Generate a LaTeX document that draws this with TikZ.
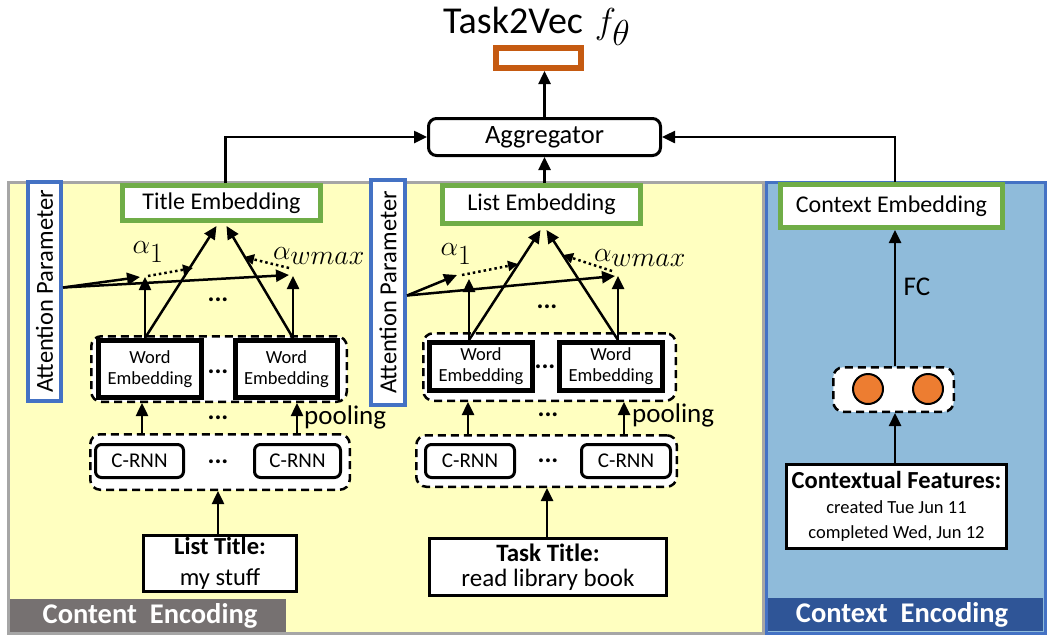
\documentclass[tikz,border=0pt]{standalone}
\usepackage{fontspec}
\setmainfont{Carlito}
\usetikzlibrary{arrows.meta,calc}
\definecolor{yellowbg}{HTML}{FFFFC0}
\definecolor{framegray}{HTML}{A6A6A6}
\definecolor{ctxbg}{HTML}{8FBBDA}
\definecolor{ctxframe}{HTML}{4472C4}
\definecolor{ctxband}{HTML}{2F5597}
\definecolor{contentband}{HTML}{767171}
\definecolor{embgreen}{HTML}{70AD47}
\definecolor{parblue}{HTML}{4472C4}
\definecolor{vecorange}{HTML}{C55A11}
\definecolor{unitorange}{HTML}{ED7D31}
\newcommand\fsz[2]{\fontsize{#1}{#2}\selectfont}
\newcommand\bigmath[2]{{\fsz{24}{28}\scalebox{#1}{$#2$}}}
\begin{document}
\begin{tikzpicture}[x=1pt,y=-1pt,
  arr/.style={-{Triangle[length=13pt,width=12pt]},line width=2.5pt},
  dotarr/.style={-{Triangle[length=10pt,width=10pt]},line width=2.5pt,dash pattern=on 2.5pt off 3pt},
  embbox/.style={draw=embgreen,line width=5pt,fill=white,inner sep=0pt,font=\fsz{24}{28}},
  parbox/.style={draw=parblue,line width=4pt,fill=white,inner sep=0pt,font=\fsz{24.5}{28}},
  wordbox/.style={draw=black,line width=5pt,fill=white,inner sep=0pt,align=center,font=\fsz{18.5}{21}},
  rnnbox/.style={draw=black,line width=3pt,rounded corners=6pt,fill=white,inner sep=0pt,font=\fsz{21}{25}},
  grp/.style={draw=black,line width=2.5pt,dash pattern=on 8pt off 5pt,rounded corners=10pt,fill=white,inner sep=0pt},
  inbox/.style={draw=black,line width=3pt,fill=white,inner sep=0pt,align=center},
  ellip/.style={font=\fsz{26}{28}\bfseries,inner sep=0pt},
  alab/.style={inner sep=0pt},
  band/.style={text=white,font=\fsz{28.5}{32}\bfseries,inner sep=0pt},
]
\useasboundingbox (0,0) rectangle (1048,638);

% encoder regions
\draw[fill=yellowbg,draw=framegray,line width=3pt] (8,182) rectangle (763,633);
\draw[fill=ctxbg,draw=ctxframe,line width=3pt] (766,182) rectangle (1045,633);
\fill[contentband] (10,599) rectangle (286,632);
\fill[ctxband] (768,598) rectangle (1043,631);
\node[band] (lbcontent) at (150,615.5) {Content\ \ Encoding};
\node[band] (lbcontext) at (902,614.5) {Context\ \ Encoding};

% output and aggregation
\node[anchor=base west,font=\fsz{38}{44},inner sep=0pt] (t2v) at (443,33) {Task2Vec\hspace{12pt}\bigmath{1.45}{f_{\textstyle\theta}}};
\node[draw=vecorange,line width=6pt,fill=white,minimum width=85,minimum height=20,inner sep=0pt] (vec) at (538.5,58) {};
\node[draw=black,line width=3pt,rounded corners=8pt,fill=white,minimum width=232,minimum height=37,inner sep=0pt,font=\fsz{26.5}{30}] (agg) at (544.5,137) {Aggregator};

% embeddings
\node[embbox,minimum width=198,minimum height=35] (title) at (221.5,203) {Title Embedding\hspace{8pt}};
\node[embbox,minimum width=198,minimum height=38] (list) at (541.5,204.5) {List Embedding};
\node[embbox,minimum width=222,minimum height=43] (ctx) at (891.5,206) {Context Embedding};

% attention parameters
\node[parbox,minimum width=33,minimum height=219] (apL) at (44.5,291.5) {\rotatebox{90}{Attention Parameter}};
\node[parbox,minimum width=34,minimum height=225] (apM) at (388,292.5) {\rotatebox{90}{Attention Parameter}};

% title branch
\node[grp,minimum width=255.5,minimum height=65.5] (wgL) at (219,369) {};
\node[wordbox,minimum width=103,minimum height=57] (weL1) at (150,369) {Word\\Embedding};
\node[wordbox,minimum width=102,minimum height=57] (weL2) at (286.5,369) {Word\\Embedding};
\node[grp,minimum width=259.5,minimum height=55.5] (rgL) at (220,462) {};
\node[rnnbox,minimum width=88,minimum height=33] (rnnL1) at (139.5,461) {C-RNN};
\node[rnnbox,minimum width=86,minimum height=33] (rnnL2) at (297.5,461) {C-RNN};
\node[inbox,minimum width=153,minimum height=56,font=\fsz{24.5}{31}] (lt) at (220,563.5) {\textbf{List Title:}\\my stuff};

% task branch
\node[grp,minimum width=252.5,minimum height=67.5] (wgM) at (549.5,367) {};
\node[wordbox,minimum width=103,minimum height=48] (weM1) at (481,366.5) {Word\\Embedding};
\node[wordbox,minimum width=103,minimum height=48] (weM2) at (611,366.5) {Word\\Embedding};
\node[grp,minimum width=260.5,minimum height=51.5] (rgM) at (546.5,461) {};
\node[rnnbox,minimum width=89,minimum height=33] (rnnM1) at (470,461) {C-RNN};
\node[rnnbox,minimum width=89,minimum height=33] (rnnM2) at (626,461) {C-RNN};
\node[inbox,minimum width=237,minimum height=57,font=\fsz{25}{25}] (tt) at (548,567) {\textbf{Task Title:}\\read library book};

% context branch
\node[grp,minimum width=120.5,minimum height=44.5] (cg) at (893.5,389.5) {};
\node[circle,draw=black,line width=2pt,fill=unitorange,minimum size=30,inner sep=0pt] (u1) at (868,389) {};
\node[circle,draw=black,line width=2pt,fill=unitorange,minimum size=30,inner sep=0pt] (u2) at (928,389) {};
\node[inbox,minimum width=220,minimum height=84,font=\fsz{18.5}{25}] (cf) at (896.5,506.5) {{\fsz{24.5}{27}\bfseries Contextual Features:}\\created Tue Jun 11\\completed Wed, Jun 12};
\node[font=\fsz{27}{30},inner sep=0pt] (fc) at (917,287) {FC};

% ellipses
\node[ellip] (d1) at (218,372) {...};
\node[ellip] (d2) at (218,300) {...};
\node[ellip] (d3) at (218,462) {...};
\node[ellip] (d4) at (218,418) {...};
\node[ellip] (d5) at (545,367) {...};
\node[ellip] (d6) at (547,307) {...};
\node[ellip] (d7) at (548,461) {...};
\node[ellip] (d8) at (548,415) {...};

% pooling labels
\node[anchor=west,font=\fsz{27}{30},inner sep=0pt] (plL) at (304,417) {pooling};
\node[anchor=west,font=\fsz{27}{30},inner sep=0pt] (plM) at (632,415) {pooling};

% attention weights
\node[alab] (alL1) at (148,252) {\bigmath{1.12}{\alpha_{\textstyle 1}}};
\node[alab] (alLw) at (319,256) {\bigmath{1.12}{\alpha_{\textstyle wmax}}};
\node[alab] (alM1) at (456,254) {\bigmath{1.12}{\alpha_{\textstyle 1}}};
\node[alab] (alMw) at (640,258) {\bigmath{1.12}{\alpha_{\textstyle wmax}}};

% attention points
\coordinate (a1L) at (145,277);
\coordinate (awL) at (293,276);
\coordinate (a1M) at (469,279);
\coordinate (awM) at (618,276);
\coordinate (dL1) at (193,268);
\coordinate (dL2) at (244,257);
\coordinate (dM1) at (518,264);
\coordinate (dM2) at (563,255);
\coordinate (pL1) at (142,0);
\coordinate (pL2) at (297,0);
\coordinate (pM1) at (468,0);
\coordinate (pM2) at (624,0);
\coordinate (xc) at (895,0);

% top connectors
\draw[arr] (agg.north) -- (agg.north |- vec.south);
\draw[arr] ([xshift=4pt]title.north) |- (agg.west);
\draw[arr] (list.north -| agg.south) -- (agg.south);
\draw[arr] ([xshift=3.5pt]ctx.north) |- (agg.east);

% title branch connectors
\draw[arr] (a1L |- weL1.north) -- (a1L);
\draw[arr] (a1L |- weL1.north) -- ($(title.south)+(-5,3)$);
\draw[arr] (awL |- weL2.north) -- (awL);
\draw[arr] (awL |- weL2.north) -- ($(title.south)+(5,3)$);
\draw[arr] ([yshift=4pt]apL.east) -- ($(a1L)+(-5,0)$);
\draw[arr] ([yshift=4pt]apL.east) -- ($(awL)+(-4,-1)$);
\draw[dotarr] ($(a1L)+(3,-1)$) -- (dL1);
\draw[dotarr] ($(awL)+(-4,-8)$) -- (dL2);
\draw[arr] (pL1 |- rgL.north) -- (pL1 |- wgL.south);
\draw[arr] (pL2 |- rgL.north) -- (pL2 |- wgL.south);
\draw[arr] ([xshift=-2pt]lt.north) -- ([xshift=-2pt]lt.north |- rgL.south);

% task branch connectors
\draw[arr] (a1M |- weM1.north) -- (a1M);
\draw[arr] (a1M |- weM1.north) -- ($(list.south)+(-1,4)$);
\draw[arr] (awM |- weM2.north) -- (awM);
\draw[arr] (awM |- weM2.north) -- ($(list.south)+(5,4)$);
\draw[arr] ([yshift=-3pt]apM.east) -- ($(a1M)+(-12,-4)$);
\draw[arr] ([yshift=-3pt]apM.east) -- ($(awM)+(-3,0)$);
\draw[dotarr] ($(a1M)+(-7,-4)$) -- (dM1);
\draw[dotarr] ($(awM)+(-6,-5)$) -- (dM2);
\draw[arr] (pM1 |- rgM.north) -- (pM1 |- wgM.south);
\draw[arr] (pM2 |- rgM.north) -- (pM2 |- wgM.south);
\draw[arr] ([xshift=-1pt]tt.north) -- ([xshift=-1pt]tt.north |- rgM.south);

% context branch connectors
\draw[arr] (xc |- cf.north) -- (xc |- cg.south);
\draw[arr] (xc |- cg.north) -- (xc |- ctx.south);
\end{tikzpicture}
\end{document}
